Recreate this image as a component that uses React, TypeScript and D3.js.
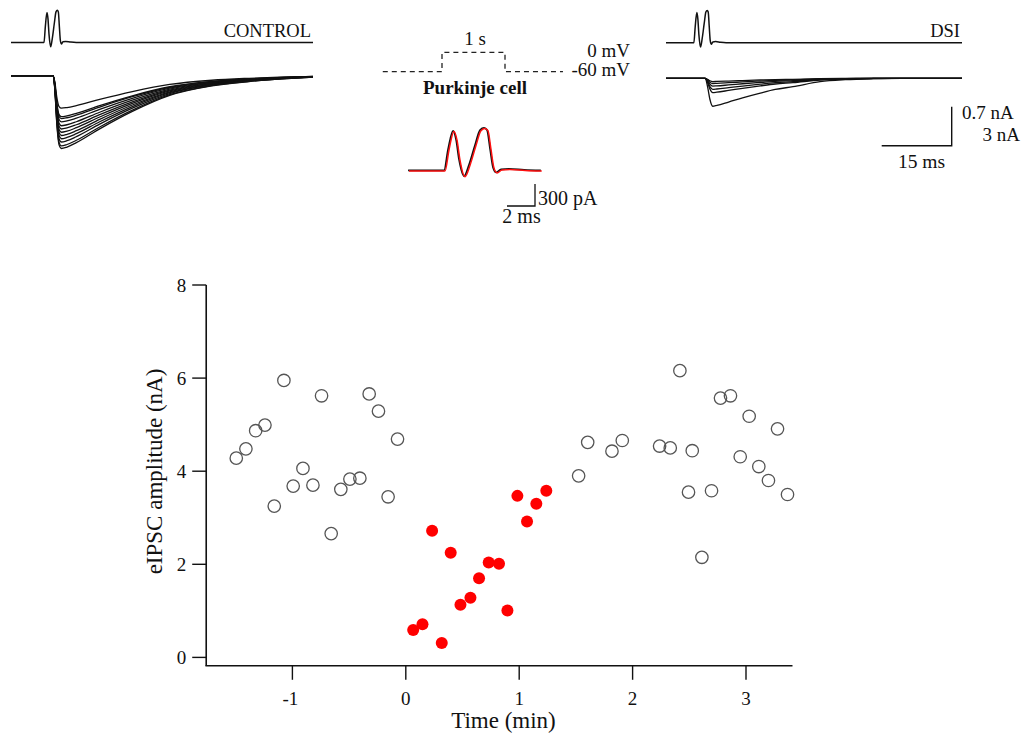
import React from 'react';
import * as d3 from 'd3';

const W = 1022;
const H = 733;
const FONT = "'Liberation Serif', 'Times New Roman', serif";

// ---------- eIPSC amplitude time course ----------
// Open circles: sweeps before and after the depolarizing step (min, nA)
const baseTimes = [
  -1.495, -1.41, -1.324, -1.242, -1.16, -1.075, -0.993, -0.907, -0.819, -0.743,
  -0.658, -0.573, -0.493, -0.405, -0.323, -0.241, -0.156, -0.073,
  1.524, 1.604, 1.818, 1.909, 2.238, 2.332, 2.417, 2.493, 2.526, 2.611,
  2.696, 2.775, 2.863, 2.949, 3.028, 3.113, 3.198, 3.278, 3.366,
];
const baseAmps = [
  4.28, 4.48, 4.87, 4.99, 3.25, 5.95, 3.68, 4.06, 3.7, 5.62,
  2.66, 3.61, 3.83, 3.85, 5.66, 5.29, 3.45, 4.69,
  3.9, 4.62, 4.43, 4.66, 4.54, 4.5, 6.16, 3.55, 4.44, 2.15,
  3.58, 5.57, 5.62, 4.31, 5.18, 4.1, 3.8, 4.91, 3.5,
];
// Filled red circles: sweeps during DSI
const dsiTimes = [
  0.065, 0.147, 0.232, 0.317, 0.396, 0.482, 0.57, 0.646,
  0.731, 0.822, 0.896, 0.984, 1.069, 1.151, 1.239,
];
const dsiAmps = [
  0.59, 0.71, 2.72, 0.31, 2.25, 1.13, 1.28, 1.7,
  2.04, 2.01, 1.01, 3.47, 2.92, 3.3, 3.58,
];

const xTicks = [-1, 0, 1, 2, 3];
const yTicks = [0, 2, 4, 6, 8];
const xAxisExtent = [-1.76, 3.41];
const yAxisExtent = [-0.18, 8];

// ---------- example sweeps ----------
// Stimulus artifact (ms, nA)
const artifactT = [0, 2.57, 2.86, 3.21, 3.43, 3.64, 4.0, 4.36, 4.79, 5.14, 5.43, 5.64, 5.86, 6.07, 6.29, 6.64, 7.21, 8.29, 9.48];
const artifactI = [0, 0, 0.29, 0.54, 0.42, 0.15, -0.078, 0.08, 0.35, 0.55, 0.58, 0.55, 0.29, 0.04, -0.027, 0.014, 0.02, 0.007, 0];

// Normalized eIPSC waveforms (ms after onset, fraction of peak)
const ctrlShapeT = [0, 0.4, 0.8, 1.3, 1.8, 3, 5, 10, 17, 25, 34, 42, 50, 56];
const ctrlShapeF = [0, 0.2, 0.65, 0.95, 1.0, 0.98, 0.92, 0.73, 0.49, 0.27, 0.14, 0.08, 0.04, 0.02];
const dsiShapeT = [0, 0.5, 1, 1.6, 2.5, 5, 8, 11.8, 15, 18.8, 24.6, 30, 36, 42, 55];
const dsiShapeF = [0, 0.3, 0.75, 1.0, 0.97, 0.85, 0.7, 0.53, 0.4, 0.3, 0.12, 0.05, 0.015, 0, 0];

// Peak amplitudes of overlaid sweeps (nA)
const ctrlPeaks = [2.5, 3.15, 3.3, 3.55, 3.85, 4.1, 4.35, 4.6, 4.85, 5.1, 5.4, 5.6];
const dsiPeaks = [2.15, 1.1, 0.85, 0.6, 0.4, 0.25];

// Voltage protocol (s, mV)
const stepT = [-0.94, 0, 0, 1, 1, 1.92];
const stepV = [-60, -60, 0, 0, -60, -60];

type Pt = [number, number];

function zip(a: number[], b: number[]): Pt[] {
  return a.map((v, i) => [v, b[i]] as Pt);
}

function ScatterPanel() {
  const x = d3.scaleLinear().domain([-1, 3]).range([292.4, 746]);
  const y = d3.scaleLinear().domain([0, 8]).range([657.4, 285]);
  const x0 = x(xAxisExtent[0]);
  const x1 = x(xAxisExtent[1]);
  const yb = y(yAxisExtent[0]);
  const yt = y(yAxisExtent[1]);
  return (
    <g fontFamily={FONT} fill="#111">
      <line x1={x0} x2={x0} y1={yt} y2={yb} stroke="#111" strokeWidth={1.6} />
      <line x1={x0 - 0.8} x2={x1} y1={yb} y2={yb} stroke="#111" strokeWidth={1.6} />
      {yTicks.map((v) => (
        <g key={'y' + v}>
          <line x1={x0 - 14} x2={x0} y1={y(v)} y2={y(v)} stroke="#111" strokeWidth={1.4} />
          <text x={x0 - 20} y={y(v)} dy="0.35em" textAnchor="end" fontSize={19}>{v}</text>
        </g>
      ))}
      {xTicks.map((t) => (
        <g key={'x' + t}>
          <line x1={x(t)} x2={x(t)} y1={yb} y2={yb + 14} stroke="#111" strokeWidth={1.4} />
          <text x={x(t) - (t < 0 ? 2 : 0)} y={705} textAnchor="middle" fontSize={19}>{t}</text>
        </g>
      ))}
      <text x={503.5} y={728} textAnchor="middle" fontSize={23}>Time (min)</text>
      <text transform="translate(162,471.5) rotate(-90)" textAnchor="middle" fontSize={23}>eIPSC amplitude (nA)</text>
      {baseTimes.map((t, i) => (
        <circle key={'b' + i} cx={x(t)} cy={y(baseAmps[i])} r={6.2} fill="none" stroke="#555" strokeWidth={1.3} />
      ))}
      {dsiTimes.map((t, i) => (
        <circle key={'d' + i} cx={x(t)} cy={y(dsiAmps[i])} r={6} fill="#ff0000" stroke="none" />
      ))}
    </g>
  );
}

// One column of example sweeps: stimulus artifact above, eIPSCs below
function SweepPanel(props: {
  left: number; right: number; durMs: number; artShift: number; onset: number;
  artBase: number; curBase: number; peaks: number[]; shapeT: number[]; shapeF: number[];
  label: string;
}) {
  const { left, right, durMs, artShift, onset, artBase, curBase, peaks, shapeT, shapeF, label } = props;
  const t = d3.scaleLinear().domain([0, durMs]).range([left, right]);
  const yArt = d3.scaleLinear().domain([0, 0.7]).range([artBase, artBase - 39]);
  const yCur = d3.scaleLinear().domain([0, 3]).range([curBase, curBase + 39]);
  const line = d3.line<Pt>().x((d) => t(d[0])).curve(d3.curveMonotoneX);

  const artPts: Pt[] = [[0, 0], ...zip(artifactT, artifactI).map(([a, b]) => [a + artShift, b] as Pt), [durMs, 0]];
  const artPath = line.y((d) => yArt(d[1]))(artPts) || '';

  const sweepPaths = peaks.map((p) => {
    const pts: Pt[] = [[0, 0], [onset, 0], ...zip(shapeT, shapeF)
      .filter(([a]) => onset + a <= durMs)
      .map(([a, f]) => [onset + a, f * p] as Pt), [durMs, shapeF[shapeF.length - 1] * p]];
    return line.y((d) => yCur(d[1]))(pts) || '';
  });

  return (
    <g fill="none" stroke="#111" strokeLinejoin="round">
      <path d={artPath} strokeWidth={1.5} />
      {sweepPaths.map((d, i) => (
        <path key={i} d={d} strokeWidth={1.3} />
      ))}
      <text x={right - 2} y={37} textAnchor="end" fontSize={18.5} fontFamily={FONT} fill="#111" stroke="none">{label}</text>
    </g>
  );
}

function ProtocolPanel() {
  const t = d3.scaleLinear().domain([0, 1]).range([442, 505]);
  const v = d3.scaleLinear().domain([-60, 0]).range([71.7, 52.3]);
  const d = d3.line<Pt>().x((p) => t(p[0])).y((p) => v(p[1]))(zip(stepT, stepV)) || '';
  return (
    <g fontFamily={FONT} fill="#111">
      <path d={d} fill="none" stroke="#222" strokeWidth={1.3} strokeDasharray="5,4" />
      <text x={475} y={45} textAnchor="middle" fontSize={19}>1 s</text>
      <text x={630} y={57} textAnchor="end" fontSize={19}>0 mV</text>
      <text x={630} y={76} textAnchor="end" fontSize={19}>-60 mV</text>
      <text x={475} y={94} textAnchor="middle" fontSize={19} fontWeight="bold">Purkinje cell</text>
    </g>
  );
}

function ArtifactOverlay() {
  const t = d3.scaleLinear().domain([0, 2]).range([409, 437]);
  const i = d3.scaleLinear().domain([0, 0.3]).range([171, 149]);
  const pts = zip(artifactT, artifactI);
  const d = d3.line<Pt>().x((p) => t(p[0])).y((p) => i(p[1])).curve(d3.curveMonotoneX)(pts) || '';
  // 2 ms / 300 pA scale bar below the overlay
  const barX0 = t(7);
  const barX1 = t(9);
  const barY = 206;
  const barTop = barY - (i(0) - i(0.3));
  return (
    <g fontFamily={FONT}>
      <path d={d} fill="none" stroke="#111" strokeWidth={1.8} transform="translate(-0.9,-0.6)" />
      <path d={d} fill="none" stroke="#ff1010" strokeWidth={1.5} />
      <path d={`M${barX0},${barY}H${barX1}V${barTop}`} fill="none" stroke="#111" strokeWidth={1.3} />
      <text x={538} y={205} fontSize={20} fill="#111">300 pA</text>
      <text x={521.5} y={223} textAnchor="middle" fontSize={20} fill="#111">2 ms</text>
    </g>
  );
}

function ScaleBars() {
  return (
    <g fontFamily={FONT} fill="#111">
      <path d="M881.7,145.7H951.7V106.7" fill="none" stroke="#111" strokeWidth={1.4} />
      <text x={962} y={118.5} fontSize={19}>0.7 nA</text>
      <text x={1020} y={140.5} textAnchor="end" fontSize={19}>3 nA</text>
      <text x={921.5} y={167.5} textAnchor="middle" fontSize={19.5}>15 ms</text>
    </g>
  );
}

export default function App() {
  return (
    <svg width={W} height={H} viewBox={`0 0 ${W} ${H}`}
      style={{ position: 'absolute', left: 0, top: 0, background: '#fff' }}>
      <rect width={W} height={H} fill="#fff" />
      <SweepPanel left={11} right={313} durMs={64.7} artShift={4.5} onset={9.0}
        artBase={42.5} curBase={75.7} peaks={ctrlPeaks} shapeT={ctrlShapeT} shapeF={ctrlShapeF} label="CONTROL" />
      <SweepPanel left={666} right={962} durMs={63.4} artShift={3.4} onset={8.4}
        artBase={42.7} curBase={78.3} peaks={dsiPeaks} shapeT={dsiShapeT} shapeF={dsiShapeF} label="DSI" />
      <ProtocolPanel />
      <ArtifactOverlay />
      <ScaleBars />
      <ScatterPanel />
    </svg>
  );
}
